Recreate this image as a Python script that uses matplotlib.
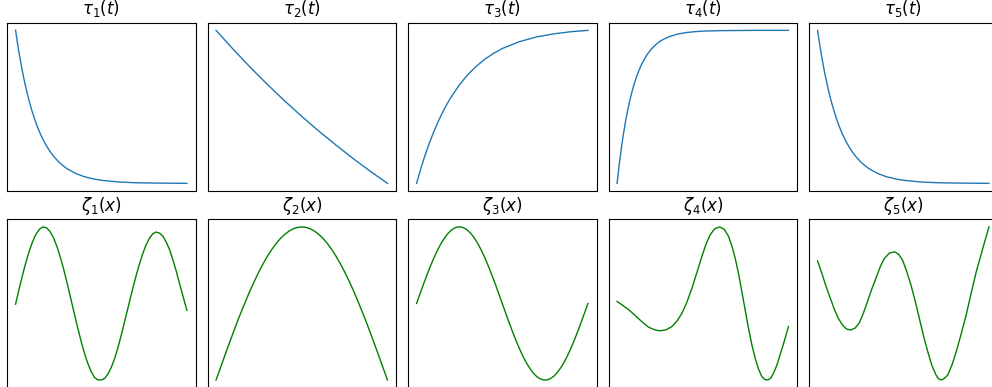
import matplotlib
matplotlib.use("Agg")
import matplotlib.pyplot as plt

BLUE  = "#1f77b4"
GREEN = "green"
LW    = 1.0

# top row: tau_i(t) (x and y both 0..1)
tau1_t = [0, 0.0125, 0.025, 0.0375, 0.05, 0.0625, 0.075, 0.0875, 0.1, 0.1125, 0.125, 0.1375, 0.15,
          0.175, 0.2, 0.225, 0.25, 0.275, 0.3, 0.35, 0.4, 0.45, 0.5, 0.6, 0.7, 0.8, 0.9, 1.0]
tau1_y = [1, 0.907, 0.823, 0.746, 0.677, 0.614, 0.557, 0.505, 0.458, 0.416, 0.377, 0.342, 0.31,
          0.255, 0.21, 0.173, 0.142, 0.117, 0.096, 0.065, 0.044, 0.030, 0.02, 0.009, 0.004, 0.002, 0.001, 0.0]

tau2_t = [0, 0.1, 0.2, 0.3, 0.4, 0.5, 0.6, 0.7, 0.8, 0.9, 1.0]
tau2_y = [1, 0.876, 0.758, 0.646, 0.539, 0.438, 0.341, 0.250, 0.162, 0.079, 0.0]

tau3_t = [0, 0.025, 0.05, 0.075, 0.1, 0.125, 0.15, 0.175, 0.2, 0.25, 0.3, 0.35, 0.4, 0.45,
          0.5, 0.6, 0.7, 0.8, 0.9, 1.0]
tau3_y = [0, 0.097, 0.185, 0.264, 0.336, 0.401, 0.460, 0.513, 0.561, 0.644, 0.712, 0.767, 0.813, 0.850,
          0.881, 0.926, 0.957, 0.977, 0.991, 1.0]

tau4_t = [0, 0.0125, 0.025, 0.0375, 0.05, 0.0625, 0.075, 0.0875, 0.1, 0.1125, 0.125, 0.1375, 0.15,
          0.175, 0.2, 0.225, 0.25, 0.275, 0.3, 0.35, 0.4, 0.45, 0.5, 0.6, 0.7, 0.8, 0.9, 1.0]
tau4_y = [0, 0.123, 0.231, 0.325, 0.408, 0.481, 0.545, 0.601, 0.650, 0.693, 0.731, 0.764, 0.793,
          0.841, 0.878, 0.906, 0.928, 0.944, 0.957, 0.975, 0.985, 0.991, 0.995, 0.998, 0.999, 1.0, 1.0, 1.0]

tau5_t = [0, 0.0125, 0.025, 0.0375, 0.05, 0.0625, 0.075, 0.0875, 0.1, 0.1125, 0.125, 0.1375, 0.15,
          0.175, 0.2, 0.225, 0.25, 0.275, 0.3, 0.35, 0.4, 0.45, 0.5, 0.6, 0.7, 0.8, 0.9, 1.0]
tau5_y = [1, 0.907, 0.823, 0.746, 0.677, 0.614, 0.557, 0.505, 0.458, 0.416, 0.377, 0.342, 0.31,
          0.255, 0.21, 0.173, 0.142, 0.117, 0.096, 0.065, 0.044, 0.030, 0.02, 0.009, 0.004, 0.002, 0.001, 0.0]

# bottom row: zeta_i(x)
zeta1_x = [i / 50 for i in range(51)]
zeta1_y = [0.49, 0.585, 0.676, 0.760, 0.835, 0.897, 0.945, 0.976, 0.99, 0.985,
           0.962, 0.923, 0.868, 0.799, 0.719, 0.631, 0.537, 0.442, 0.349, 0.261,
           0.181, 0.112, 0.057, 0.017, 0.0, 0.0, 0.01, 0.04, 0.085, 0.145,
           0.22, 0.304, 0.395, 0.485, 0.575, 0.66, 0.74, 0.81, 0.87, 0.915,
           0.945, 0.957, 0.95, 0.93, 0.89, 0.84, 0.77, 0.695, 0.61, 0.53, 0.45]

zeta2_x = [i / 40 for i in range(41)]
zeta2_y = [0, 0.078, 0.156, 0.233, 0.309, 0.383, 0.454, 0.522, 0.588, 0.649,
           0.707, 0.760, 0.809, 0.853, 0.891, 0.924, 0.951, 0.972, 0.988, 0.997,
           1.0, 0.997, 0.988, 0.972, 0.951, 0.924, 0.891, 0.853, 0.809, 0.760,
           0.707, 0.649, 0.588, 0.522, 0.454, 0.383, 0.309, 0.233, 0.156, 0.078, 0.0]

zeta3_x = [i / 50 for i in range(51)]
zeta3_y = [0, 0.125, 0.249, 0.368, 0.482, 0.588, 0.685, 0.771, 0.844, 0.905,
           0.951, 0.982, 0.998, 0.998, 0.982, 0.951, 0.905, 0.844, 0.771, 0.685,
           0.588, 0.482, 0.368, 0.249, 0.125, 0, -0.125, -0.249, -0.368, -0.482,
           -0.588, -0.685, -0.771, -0.844, -0.905, -0.951, -0.982, -0.998, -0.998, -0.982,
           -0.951, -0.905, -0.844, -0.771, -0.685, -0.588, -0.482, -0.368, -0.249, -0.125, 0]

zeta4_x = [0, 0.034, 0.068, 0.097, 0.126, 0.155, 0.184, 0.218, 0.252, 0.286, 0.320,
           0.350, 0.379, 0.408, 0.437, 0.466, 0.495, 0.520, 0.544, 0.570, 0.598,
           0.625, 0.650, 0.670, 0.689, 0.708, 0.728, 0.748, 0.767, 0.786, 0.806,
           0.825, 0.845, 0.862, 0.880, 0.897, 0.913, 0.932, 0.951, 0.975, 1.0]
zeta4_y = [0.513, 0.487, 0.459, 0.430, 0.400, 0.371, 0.345, 0.328, 0.321, 0.328, 0.349,
           0.385, 0.437, 0.510, 0.600, 0.703, 0.808, 0.890, 0.950, 0.988, 1.0,
           0.985, 0.94, 0.875, 0.797, 0.70, 0.579, 0.455, 0.338, 0.232, 0.142,
           0.072, 0.022, 0.003, 0.0, 0.012, 0.044, 0.095, 0.164, 0.25, 0.349]

zeta5_x = [0, 0.024, 0.047, 0.072, 0.096, 0.120, 0.145, 0.169, 0.193, 0.218, 0.242,
           0.266, 0.291, 0.315, 0.340, 0.364, 0.389, 0.420, 0.451, 0.474, 0.496,
           0.520, 0.545, 0.570, 0.594, 0.618, 0.643, 0.667, 0.691, 0.706, 0.721,
           0.740, 0.760, 0.785, 0.809, 0.838, 0.867, 0.896, 0.926, 0.963, 1.0]
zeta5_y = [0.778, 0.700, 0.620, 0.542, 0.467, 0.405, 0.359, 0.333, 0.326, 0.338, 0.370,
           0.432, 0.511, 0.590, 0.663, 0.735, 0.793, 0.830, 0.837, 0.820, 0.783,
           0.710, 0.620, 0.515, 0.402, 0.290, 0.185, 0.095, 0.033, 0.008, 0.0,
           0.010, 0.033, 0.100, 0.185, 0.300, 0.424, 0.565, 0.707, 0.855, 1.0]

top_series = [(tau1_t, tau1_y), (tau2_t, tau2_y), (tau3_t, tau3_y), (tau4_t, tau4_y), (tau5_t, tau5_y)]
bottom_series = [(zeta1_x, zeta1_y), (zeta2_x, zeta2_y), (zeta3_x, zeta3_y), (zeta4_x, zeta4_y), (zeta5_x, zeta5_y)]
top_titles = [r"$\tau_%d(t)$" % (i + 1) for i in range(5)]
bottom_titles = [r"$\zeta_%d(x)$" % (i + 1) for i in range(5)]

W, H = 992, 387
fig = plt.figure(figsize=(W / 100, H / 100), dpi=100)

# axes boxes in pixels (figure is cropped on the right and bottom)
col_left = [7, 207.5, 408, 608.5, 809]
ax_w, ax_h = 188.5, 168.3
row_top = [22.7, 219.3]


def add_panel(px_left, px_top):
    return fig.add_axes([px_left / W, 1 - (px_top + ax_h) / H, ax_w / W, ax_h / H])


for j in range(5):
    ax = add_panel(col_left[j], row_top[0])
    ax.plot(*top_series[j], color=BLUE, lw=LW)
    ax.set_title(top_titles[j], fontsize=12)
    ax.set_xticks([])
    ax.set_yticks([])

    ax = add_panel(col_left[j], row_top[1])
    ax.plot(*bottom_series[j], color=GREEN, lw=LW)
    ax.set_title(bottom_titles[j], fontsize=12)
    ax.set_xticks([])
    ax.set_yticks([])

fig.savefig("out.png", dpi=100)
